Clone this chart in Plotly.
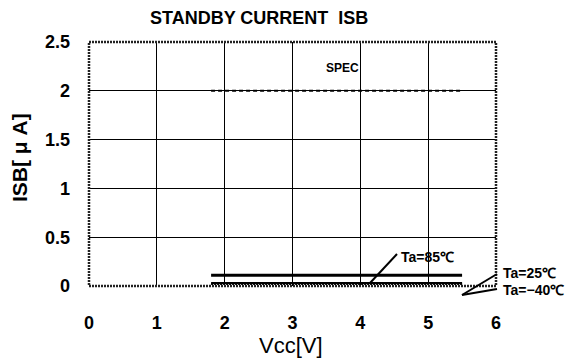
import plotly.graph_objects as go

# Standby current vs supply voltage
vcc = [1.8, 5.5]
isb_85 = [0.11, 0.11]
isb_25 = [0.03, 0.03]
isb_m40 = [0.02, 0.02]
spec = [2.0, 2.0]

x_ticks = [0, 1, 2, 3, 4, 5, 6]
y_ticks = [0, 0.5, 1, 1.5, 2, 2.5]
y_tick_text = ["0", "0.5", "1", "1.5", "2", "2.5"]

fig = go.Figure()
fig.add_trace(go.Scatter(x=vcc, y=spec, mode="lines",
                         line=dict(color="black", width=2, dash="4px,3px")))
fig.add_trace(go.Scatter(x=vcc, y=isb_85, mode="lines",
                         line=dict(color="black", width=3)))
fig.add_trace(go.Scatter(x=vcc, y=isb_25, mode="lines",
                         line=dict(color="black", width=2)))
fig.add_trace(go.Scatter(x=vcc, y=isb_m40, mode="lines",
                         line=dict(color="black", width=2, dash="2px,1px")))

tick_font = dict(family="Liberation Sans", size=18, color="black", weight="bold")
fig.update_xaxes(range=[0, 6], tickvals=x_ticks, showgrid=True,
                 gridcolor="black", gridwidth=1, zeroline=False,
                 showline=False, tickfont=tick_font, ticks="",
                 ticklabelstandoff=24)
fig.update_yaxes(range=[0, 2.5], tickvals=y_ticks, ticktext=y_tick_text,
                 showgrid=True, gridcolor="black", gridwidth=1,
                 zeroline=False, showline=False, tickfont=tick_font,
                 ticks="", ticklabelstandoff=18)

# plot frame
fig.add_shape(type="rect", xref="paper", yref="paper", x0=0, y0=0, x1=1, y1=1,
              line=dict(color="#222", width=2.5, dash="2px,1px"))

L, R, T, B = 89, 496, 42, 286


def px(xp, yp):
    # pixel positions relative to the plot area -> paper coordinates
    return (xp - L) / (R - L), (B - yp) / (B - T)


def leader(p0, p1):
    x0, y0 = px(*p0)
    x1, y1 = px(*p1)
    fig.add_shape(type="line", xref="paper", yref="paper",
                  x0=x0, y0=y0, x1=x1, y1=y1,
                  line=dict(color="black", width=2))


def label(xp, yp, text, font, xanchor="center", angle=0):
    x, y = px(xp, yp)
    fig.add_annotation(x=x, y=y, xref="paper", yref="paper", text=text,
                       showarrow=False, xanchor=xanchor, yanchor="middle",
                       textangle=angle, font=font)


leader((370, 283), (397, 254))
leader((497, 274), (462, 295))
leader((497, 289), (462, 295))

lab_font = dict(family="Liberation Sans", size=14, color="black")
label(399, 257, "<b>Ta=85℃</b>", lab_font, xanchor="left")
label(501, 273, "<b>Ta=25℃</b>", lab_font, xanchor="left")
label(501, 290, "<b>Ta=−40℃</b>", lab_font, xanchor="left")
label(342, 68, "<b>SPEC</b>", dict(family="Liberation Sans", size=12, color="black"))

# titles
label(259, 18, "<b>STANDBY CURRENT  ISB</b>",
      dict(family="Liberation Sans", size=18, color="black"))
label(291, 345, "Vcc[V]", dict(family="Liberation Sans", size=22, color="black"))
label(19, 158, "<b>ISB[ μ A]</b>", dict(family="Liberation Sans", size=21, color="black"),
      angle=-90)

fig.update_layout(width=566, height=363, showlegend=False,
                  margin=dict(l=L, r=566 - R, t=T, b=363 - B),
                  plot_bgcolor="white", paper_bgcolor="white")

fig.write_html("out.html")
